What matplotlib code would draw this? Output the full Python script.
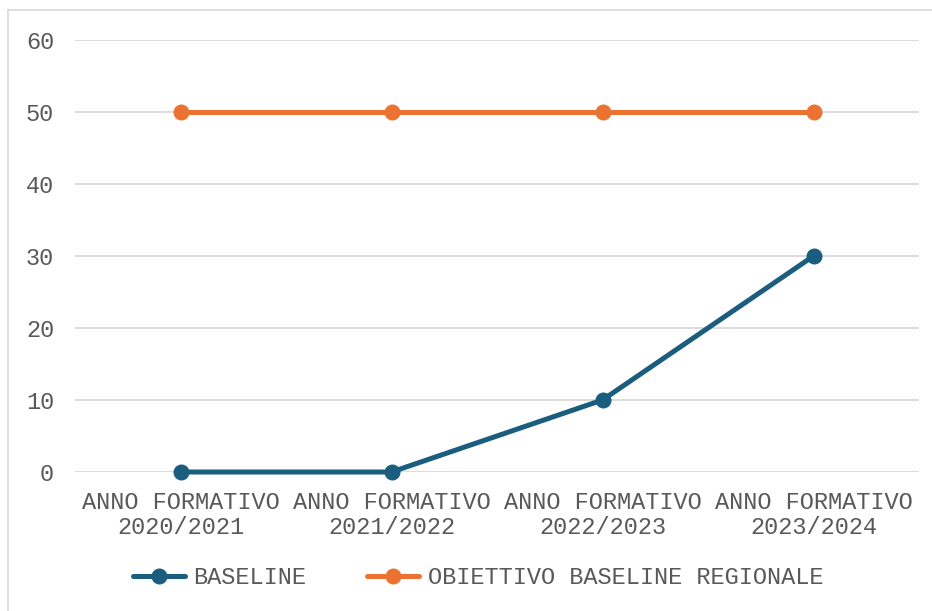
import matplotlib.pyplot as plt
from matplotlib.lines import Line2D

# data
categories = ["ANNO FORMATIVO\n2020/2021", "ANNO FORMATIVO\n2021/2022",
              "ANNO FORMATIVO\n2022/2023", "ANNO FORMATIVO\n2023/2024"]
baseline = [0, 0, 10, 30]
obiettivo = [50, 50, 50, 50]
series_names = ["BASELINE", "OBIETTIVO BASELINE REGIONALE"]

blue = "#1A5D7E"
orange = "#EC7232"
grey_text = "#595959"

plt.rcParams['font.family'] = ['Liberation Mono', 'DejaVu Sans Mono']

W, H = 932, 611
fig = plt.figure(figsize=(W / 100, H / 100), dpi=100)

# chart frame (light grey, only top and left visible)
fig.add_artist(Line2D([8 / W, 8 / W], [0, 1 - 10 / H], color="#D9D9D9", lw=1.2))
fig.add_artist(Line2D([8 / W, 1], [1 - 10 / H, 1 - 10 / H], color="#D9D9D9", lw=1.2))

ax = fig.add_axes([75 / W, (H - 472) / H, (919 - 75) / W, (472 - 40) / H])
x = range(len(categories))
ax.plot(x, baseline, color=blue, lw=3.6, marker="o", ms=10.5, label=series_names[0],
        solid_capstyle="round", zorder=3, clip_on=False)
ax.plot(x, obiettivo, color=orange, lw=3.6, marker="o", ms=10.5, label=series_names[1],
        solid_capstyle="round", zorder=3, clip_on=False)

ax.set_xlim(-0.5, len(categories) - 0.5)
ax.set_ylim(0, 60)
ax.set_yticks(range(0, 61, 10))
ax.set_xticks(list(x))
ax.set_xticklabels(categories, linespacing=1.1)
ax.grid(axis="y", color="#D9D9D9", lw=1.3)
ax.set_axisbelow(True)
for s in ax.spines.values():
    s.set_visible(False)
ax.tick_params(axis="both", length=0, labelsize=17, labelcolor=grey_text)
ax.tick_params(axis="y", pad=15)
ax.tick_params(axis="x", pad=14)

leg = fig.legend(loc="center", bbox_to_anchor=(478 / W, 1 - 578 / H), ncol=2,
                 frameon=False, fontsize=17, handlelength=2.2, handletextpad=0.35,
                 columnspacing=2.6, labelcolor=grey_text)

fig.savefig("out.png", dpi=100)
